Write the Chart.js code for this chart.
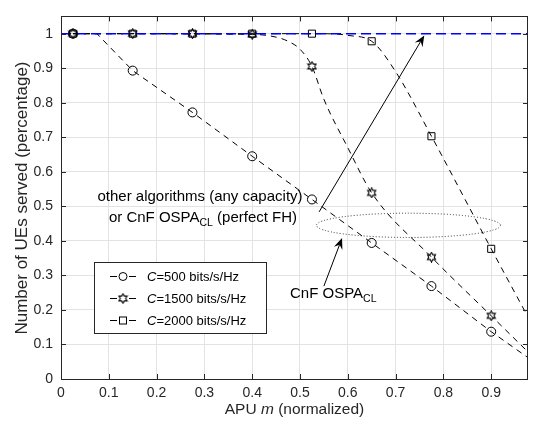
<!DOCTYPE html>
<html><head><meta charset="utf-8">
<script src="https://cdn.jsdelivr.net/npm/chart.js@4/dist/chart.umd.min.js"></script>
<style>html,body{margin:0;padding:0;background:#fff}#wrap{width:534px;height:423px;position:relative}</style>
</head><body><div id="wrap"><canvas id="c" width="534" height="423"></canvas></div>
<script>
// ---- data ----
const xMarkers = [0.025, 0.15, 0.275, 0.4, 0.525, 0.65, 0.775, 0.9];
const c500Markers  = [1, 0.893, 0.772, 0.645, 0.52, 0.394, 0.269, 0.137];
const c1500Markers = [1, 1, 1, 0.998, 0.905, 0.539, 0.353, 0.183];
const c2000Markers = [1, 1, 1, 1, 1, 0.978, 0.703, 0.377];

const c500CurveX  = [0.025, 0.075, 0.15, 0.275, 0.4, 0.525, 0.65, 0.775, 0.9, 1.025];
const c500CurveY  = [1, 1, 0.893, 0.772, 0.645, 0.52, 0.394, 0.269, 0.137, 0.015];
const c1500CurveX = [0.025, 0.4, 0.45, 0.475, 0.5, 0.525, 0.55, 0.6, 0.65, 0.775, 0.9, 1.025];
const c1500CurveY = [1, 0.998, 0.99, 0.978, 0.955, 0.905, 0.81, 0.67, 0.539, 0.353, 0.183, 0.013];
const c2000CurveX = [0.025, 0.525, 0.575, 0.6, 0.65, 0.7, 0.775, 0.9, 1.025];
const c2000CurveY = [1, 1, 0.999, 0.995, 0.978, 0.89, 0.703, 0.377, 0.057];

const otherX = [0, 0.977];
const otherY = [1, 1];

const xTicks = [0, 0.1, 0.2, 0.3, 0.4, 0.5, 0.6, 0.7, 0.8, 0.9];
const yTicks = [0, 0.1, 0.2, 0.3, 0.4, 0.5, 0.6, 0.7, 0.8, 0.9, 1];
const seriesLabels = ['=500 bits/s/Hz', '=1500 bits/s/Hz', '=2000 bits/s/Hz'];

const FONT = '"Liberation Sans", Arial, Helvetica, sans-serif';
const AX = '#262626';
const ANN = 15, SUB = 10.5;

function zip(xs, ys) { return xs.map((x, i) => ({x: x, y: ys[i]})); }

function hexagram(size, lw) {
  const c = document.createElement('canvas');
  c.width = c.height = size;
  const g = c.getContext('2d');
  const cx = size / 2, cy = size / 2, R = size / 2 - 0.8, r = R / Math.sqrt(3);
  g.beginPath();
  for (let i = 0; i < 12; i++) {
    const a = -Math.PI / 2 + i * Math.PI / 6;
    const rad = (i % 2 === 0) ? R : r;
    const px = cx + rad * Math.cos(a), py = cy + rad * Math.sin(a);
    if (i === 0) g.moveTo(px, py); else g.lineTo(px, py);
  }
  g.closePath();
  g.strokeStyle = '#000'; g.lineWidth = lw; g.stroke();
  return c;
}
const hexImg = hexagram(11, 1.1);

function markerDs(ys, style) {
  const ds = {
    type: 'scatter', data: zip(xMarkers, ys), showLine: false,
    borderColor: '#000', backgroundColor: 'rgba(0,0,0,0)', borderWidth: 1,
    pointRadius: 4.5, pointStyle: style, clip: false
  };
  if (style === 'rect') ds.pointRadius = 5;
  return ds;
}
function curveDs(xs, ys, mode) {
  return {
    type: 'line', data: zip(xs, ys), borderColor: '#000', borderWidth: 1,
    borderDash: [6, 5], pointRadius: 0, fill: false, clip: 0,
    cubicInterpolationMode: mode, tension: 0
  };
}

function drawRich(ctx, parts, x, y, align) {
  let total = 0;
  parts.forEach(p => {
    ctx.font = (p.italic ? 'italic ' : '') + p.size + 'px ' + FONT;
    p.w = ctx.measureText(p.t).width; total += p.w;
  });
  let cx = align === 'center' ? x - total / 2 : (align === 'right' ? x - total : x);
  ctx.textAlign = 'left'; ctx.textBaseline = 'middle';
  parts.forEach(p => {
    ctx.font = (p.italic ? 'italic ' : '') + p.size + 'px ' + FONT;
    ctx.fillText(p.t, cx, y + (p.dy || 0));
    cx += p.w;
  });
}

function arrow(ctx, x1, y1, x2, y2) {
  const ang = Math.atan2(y2 - y1, x2 - x1);
  const L = 11, W = 4.5, notch = 7;
  ctx.beginPath(); ctx.moveTo(x1, y1);
  ctx.lineTo(x2 - notch * Math.cos(ang), y2 - notch * Math.sin(ang));
  ctx.stroke();
  const bx = x2 - L * Math.cos(ang), by = y2 - L * Math.sin(ang);
  const nx = -Math.sin(ang), ny = Math.cos(ang);
  ctx.beginPath();
  ctx.moveTo(x2, y2);
  ctx.lineTo(bx + nx * W, by + ny * W);
  ctx.lineTo(x2 - notch * Math.cos(ang), y2 - notch * Math.sin(ang));
  ctx.lineTo(bx - nx * W, by - ny * W);
  ctx.closePath(); ctx.fill();
}

const decor = {
  id: 'decor',
  afterDraw(chart) {
    const ctx = chart.ctx, a = chart.chartArea;
    const xs = chart.scales.x, ys = chart.scales.y;
    const X = v => xs.getPixelForValue(v), Y = v => ys.getPixelForValue(v);
    ctx.save();
    // box
    ctx.strokeStyle = AX; ctx.lineWidth = 1; ctx.setLineDash([]);
    ctx.strokeRect(Math.round(a.left) + 0.5, Math.round(a.top) + 0.5,
                   Math.round(a.right - a.left) - 1, Math.round(a.bottom - a.top));
    // inside ticks
    ctx.beginPath();
    xTicks.forEach(v => {
      const px = Math.round(X(v)) + 0.5;
      ctx.moveTo(px, a.bottom); ctx.lineTo(px, a.bottom - 5);
      ctx.moveTo(px, a.top); ctx.lineTo(px, a.top + 5);
    });
    yTicks.forEach(v => {
      const py = Math.round(Y(v)) + 0.5;
      ctx.moveTo(a.left, py); ctx.lineTo(a.left + 5, py);
      ctx.moveTo(a.right, py); ctx.lineTo(a.right - 5, py);
    });
    ctx.stroke();

    // axis titles
    ctx.fillStyle = AX;
    drawRich(ctx, [{t: 'APU ', size: 15.5}, {t: 'm', size: 15.5, italic: true}, {t: ' (normalized)', size: 15.5}],
             (a.left + a.right) / 2, 410, 'center');
    ctx.save();
    ctx.translate(22, 198);
    ctx.rotate(-Math.PI / 2);
    drawRich(ctx, [{t: 'Number of UEs served (percentage)', size: 17}], 0, 0, 'center');
    ctx.restore();

    // annotations
    ctx.fillStyle = '#000'; ctx.strokeStyle = '#000'; ctx.lineWidth = 1;
    drawRich(ctx, [{t: 'other algorithms (any capacity)', size: ANN}], 200, 197, 'center');
    drawRich(ctx, [{t: 'or CnF OSPA', size: ANN}, {t: 'CL', size: SUB, dy: 5}, {t: ' (perfect FH)', size: ANN}], 203, 218, 'center');
    drawRich(ctx, [{t: 'CnF OSPA', size: ANN}, {t: 'CL', size: SUB, dy: 5}], 290, 294, 'left');
    arrow(ctx, X(0.540), Y(0.484), X(0.760), Y(0.995));
    arrow(ctx, X(0.550), Y(0.269), X(0.588), Y(0.408));
    // dotted ellipse
    ctx.setLineDash([1, 2]); ctx.strokeStyle = '#333';
    ctx.beginPath();
    const ecx = X(0.727), ecy = Y(0.445);
    ctx.ellipse(ecx, ecy, X(0.727 + 0.1925) - ecx, ecy - Y(0.445 + 0.0352), 0, 0, Math.PI * 2);
    ctx.stroke();
    ctx.setLineDash([]);

    // legend
    const lx = 94, ly = 262, lw = 172, lh = 71;
    ctx.fillStyle = '#fff'; ctx.fillRect(lx, ly, lw, lh);
    ctx.strokeStyle = AX; ctx.strokeRect(lx + 0.5, ly + 0.5, lw, lh);
    const rows = [276, 298, 320];
    rows.forEach((ry, i) => {
      ctx.strokeStyle = '#000'; ctx.lineWidth = 1;
      ctx.beginPath();
      ctx.moveTo(110, ry + 0.5); ctx.lineTo(117, ry + 0.5);
      ctx.moveTo(129, ry + 0.5); ctx.lineTo(136, ry + 0.5);
      ctx.stroke();
      if (i === 0) { ctx.beginPath(); ctx.arc(123, ry + 0.5, 4, 0, Math.PI * 2); ctx.stroke(); }
      if (i === 1) { ctx.drawImage(hexImg, 123 - 5.5, ry + 0.5 - 5.5); }
      if (i === 2) { ctx.strokeRect(119.5, ry - 3, 7, 7); }
      ctx.fillStyle = '#000';
      drawRich(ctx, [{t: 'C', size: 13, italic: true}, {t: seriesLabels[i], size: 13}], 147, ry + 1, 'left');
    });
    ctx.restore();
  }
};

function fmt(v) { if (v === 0) return '0'; if (Math.abs(v - 1) < 1e-9) return '1'; return v.toFixed(1); }

new Chart(document.getElementById('c'), {
  type: 'line',
  data: {
    datasets: [
      markerDs(c500Markers, 'circle'),
      markerDs(c1500Markers, hexImg),
      markerDs(c2000Markers, 'rect'),
      {type: 'line', data: zip(otherX, otherY), borderColor: '#0000ff', borderWidth: 1.5,
       borderDash: [10, 5], pointRadius: 0, fill: false, clip: 0},
      curveDs(c500CurveX, c500CurveY, 'default'),
      curveDs(c1500CurveX, c1500CurveY, 'monotone'),
      curveDs(c2000CurveX, c2000CurveY, 'monotone')
    ]
  },
  options: {
    responsive: false, animation: false, devicePixelRatio: 1,
    layout: {padding: {top: 6, left: 0, right: 1, bottom: 0}},
    plugins: {legend: {display: false}, tooltip: {enabled: false}},
    scales: {
      x: {
        type: 'linear', min: 0, max: 0.977,
        afterBuildTicks: s => { s.ticks = xTicks.map(v => ({value: v})); },
        afterFit: s => { s.height = 44; },
        grid: {color: '#e3e3e3', drawTicks: false},
        border: {display: false},
        ticks: {padding: 6, color: AX, font: {family: FONT, size: 14}, maxRotation: 0, callback: v => fmt(v)}
      },
      y: {
        type: 'linear', min: 0, max: 1.05,
        afterBuildTicks: s => { s.ticks = yTicks.map(v => ({value: v})); },
        afterFit: s => { s.width = 61; },
        grid: {color: '#e3e3e3', drawTicks: false},
        border: {display: false},
        ticks: {padding: 8, color: AX, font: {family: FONT, size: 14}, callback: v => fmt(v)}
      }
    }
  },
  plugins: [decor]
});
</script>
</body></html>
